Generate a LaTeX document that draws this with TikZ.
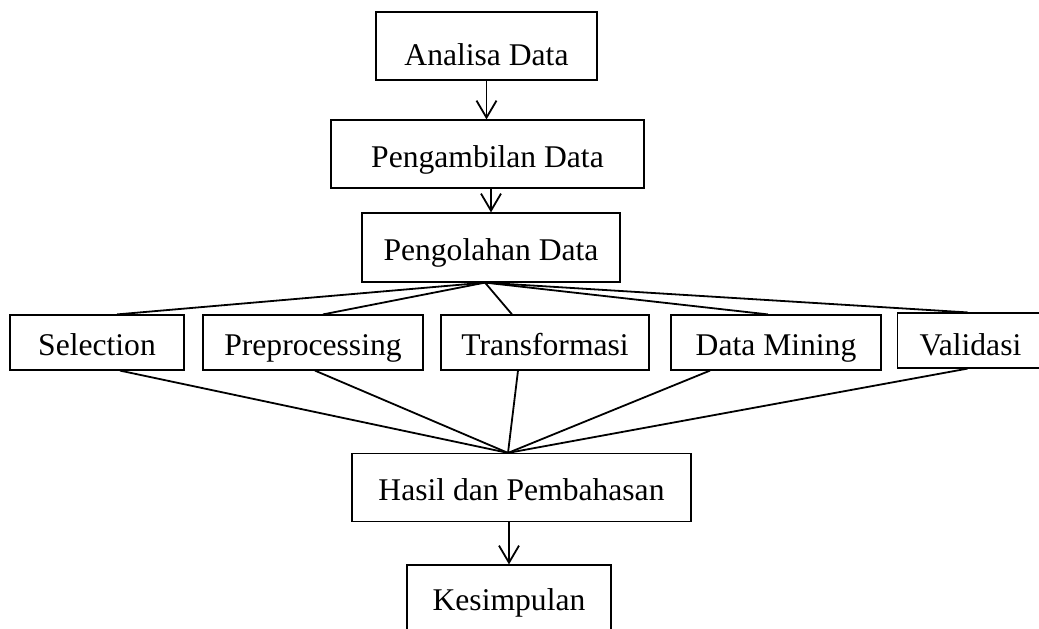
\documentclass[tikz,border=0pt]{standalone}
\usepackage{fontspec}
\setmainfont{Liberation Serif}
\usetikzlibrary{arrows.meta}
\begin{document}
\begin{tikzpicture}[x=0.5pt,y=-0.5pt,
  box/.style={draw, line width=0.6pt, inner sep=0pt, text height=12.5pt, text depth=0pt, font=\fontsize{15.8}{19}\selectfont},
  link/.style={line width=0.9pt},
  arr/.style={line width=0.9pt, -{Straight Barb[length=8.5pt,width=10pt,line width=0.9pt]}}]
\useasboundingbox (0,0) rectangle (1039,628);
\begin{scope}
\clip (0,0) rectangle (1039,628);
\node[box, minimum width=110.5pt, minimum height=34pt, text height=19pt] (ana) at (486.5,46) {Analisa Data};
\node[box, minimum width=156.5pt, minimum height=34pt, text height=13pt] (amb) at (487.5,154) {Pengambilan Data};
\node[box, minimum width=129pt, minimum height=34.5pt] (olah) at (491,247.5) {Pengolahan Data};
\node[box, minimum width=87pt, minimum height=27.5pt] (sel) at (97,342.5) {Selection};
\node[box, minimum width=110pt, minimum height=27.5pt] (pre) at (313,342.5) {Preprocessing};
\node[box, minimum width=104pt, minimum height=27.5pt] (tra) at (545,342.5) {Transformasi};
\node[box, minimum width=105pt, minimum height=27.5pt] (dm) at (776,342.5) {Data Mining};
\node[box, minimum width=74pt, minimum height=27.5pt, text height=14.5pt, text width=74pt, align=left] (val) at (971.5,340.5) {\hspace{11pt}Validasi};
\node[box, minimum width=169.5pt, minimum height=34pt] (has) at (521.5,487.5) {Hasil dan Pembahasan};
\node[box, minimum width=102pt, minimum height=32.5pt] (kes) at (509,597.5) {Kesimpulan};
\end{scope}
\coordinate (ftop) at ([xshift=-3pt]olah.south);
\coordinate (fbot) at ([xshift=-6.75pt]has.north);
\draw[arr] (ana.south) -- (ana.south |- amb.north);
\draw[arr] (olah.north |- amb.south) -- (olah.north);
\draw[arr] (kes.north |- has.south) -- (kes.north);
\draw[link] (ftop) -- ([xshift=10pt]sel.north);
\draw[link] (ftop) -- ([xshift=5pt]pre.north);
\draw[link] (ftop) -- ([xshift=-16.5pt]tra.north);
\draw[link] (ftop) -- ([xshift=-4pt]dm.north);
\draw[link] (ftop) -- ([xshift=-2pt]val.north);
\draw[link] (fbot) -- ([xshift=11.5pt]sel.south);
\draw[link] (fbot) -- ([xshift=1pt]pre.south);
\draw[link] (fbot) -- ([xshift=-13.5pt]tra.south);
\draw[link] (fbot) -- ([xshift=-33pt]dm.south);
\draw[link] (fbot) -- ([xshift=-2pt]val.south);
\end{tikzpicture}
\end{document}
